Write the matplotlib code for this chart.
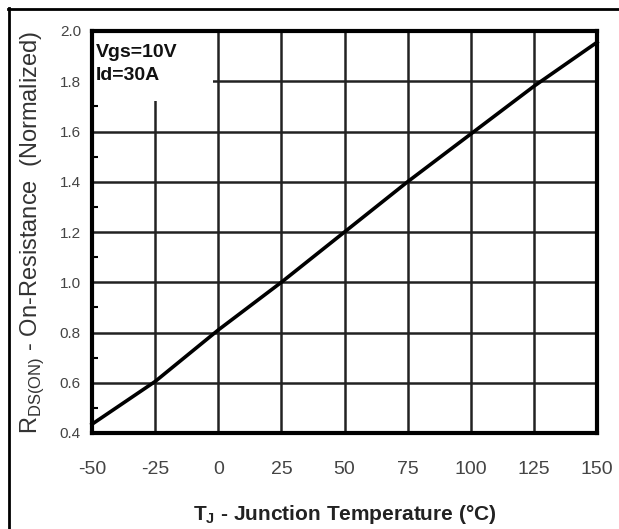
import matplotlib
matplotlib.use("Agg")
import matplotlib.pyplot as plt
from matplotlib.patches import Rectangle
from matplotlib.lines import Line2D

temps = [-50, -25, 0, 25, 50, 75, 100, 125, 150]
rds_norm = [0.435, 0.605, 0.81, 1.00, 1.20, 1.40, 1.59, 1.78, 1.955]
x_ticks = [-50, -25, 0, 25, 50, 75, 100, 125, 150]
y_ticks = [0.4, 0.6, 0.8, 1.0, 1.2, 1.4, 1.6, 1.8, 2.0]
y_minor = [0.5, 0.7, 0.9, 1.1, 1.3, 1.5, 1.7, 1.9]

plt.rcParams['font.family'] = ['Liberation Sans', 'DejaVu Sans']

fig = plt.figure(figsize=(6.19, 5.29), dpi=100)
ax = fig.add_axes([92/619, 1-433/529, 505/619, 402/529])

ax.set_xlim(-50, 150)
ax.set_ylim(0.4, 2.0)
ax.set_xticks(x_ticks)
ax.set_yticks(y_ticks)
ax.set_yticks(y_minor, minor=True)
ax.set_xticklabels([str(t) for t in x_ticks], fontsize=14, color='#444444')
ax.set_yticklabels([f"{t:.1f}" for t in y_ticks], fontsize=11, color='#444444')
ax.tick_params(axis='both', which='major', length=0)
ax.tick_params(axis='x', pad=20)
ax.tick_params(axis='y', pad=8)
ax.tick_params(axis='y', which='minor', direction='in', length=4, width=1.5, color='black')

ax.grid(True, which='major', color='#222222', linewidth=1.8)
ax.set_axisbelow(True)

for s in ax.spines.values():
    s.set_linewidth(3)
    s.set_color('black')
    s.set_zorder(5)

ax.add_patch(Rectangle((-50, 1.72), 48, 0.28, facecolor='white', edgecolor='none', zorder=2))

ax.plot(temps, rds_norm, color='black', linewidth=2.6, zorder=3, clip_on=False)

ax.text(-48.5, 1.95, "Vgs=10V\nId=30A", fontsize=14, fontweight='bold', va='top', ha='left',
        linespacing=1.5, zorder=4, color='#111111')

ax.set_ylabel(r"R$_{\mathregular{DS(ON)}}$ - On-Resistance  (Normalized)", fontsize=17, color='#333333', labelpad=10)
ax.set_xlabel(r"T$_{\mathregular{J}}$ - Junction Temperature (°C)", fontsize=15, fontweight='bold', color='#222222', labelpad=18)

fig.add_artist(Line2D([8/619, 1.0], [1-8.5/529, 1-8.5/529], color='black', linewidth=2, transform=fig.transFigure))
fig.add_artist(Line2D([8.5/619, 8.5/619], [0, 1-8/529], color='black', linewidth=2, transform=fig.transFigure))

fig.savefig("out.png", dpi=100)
